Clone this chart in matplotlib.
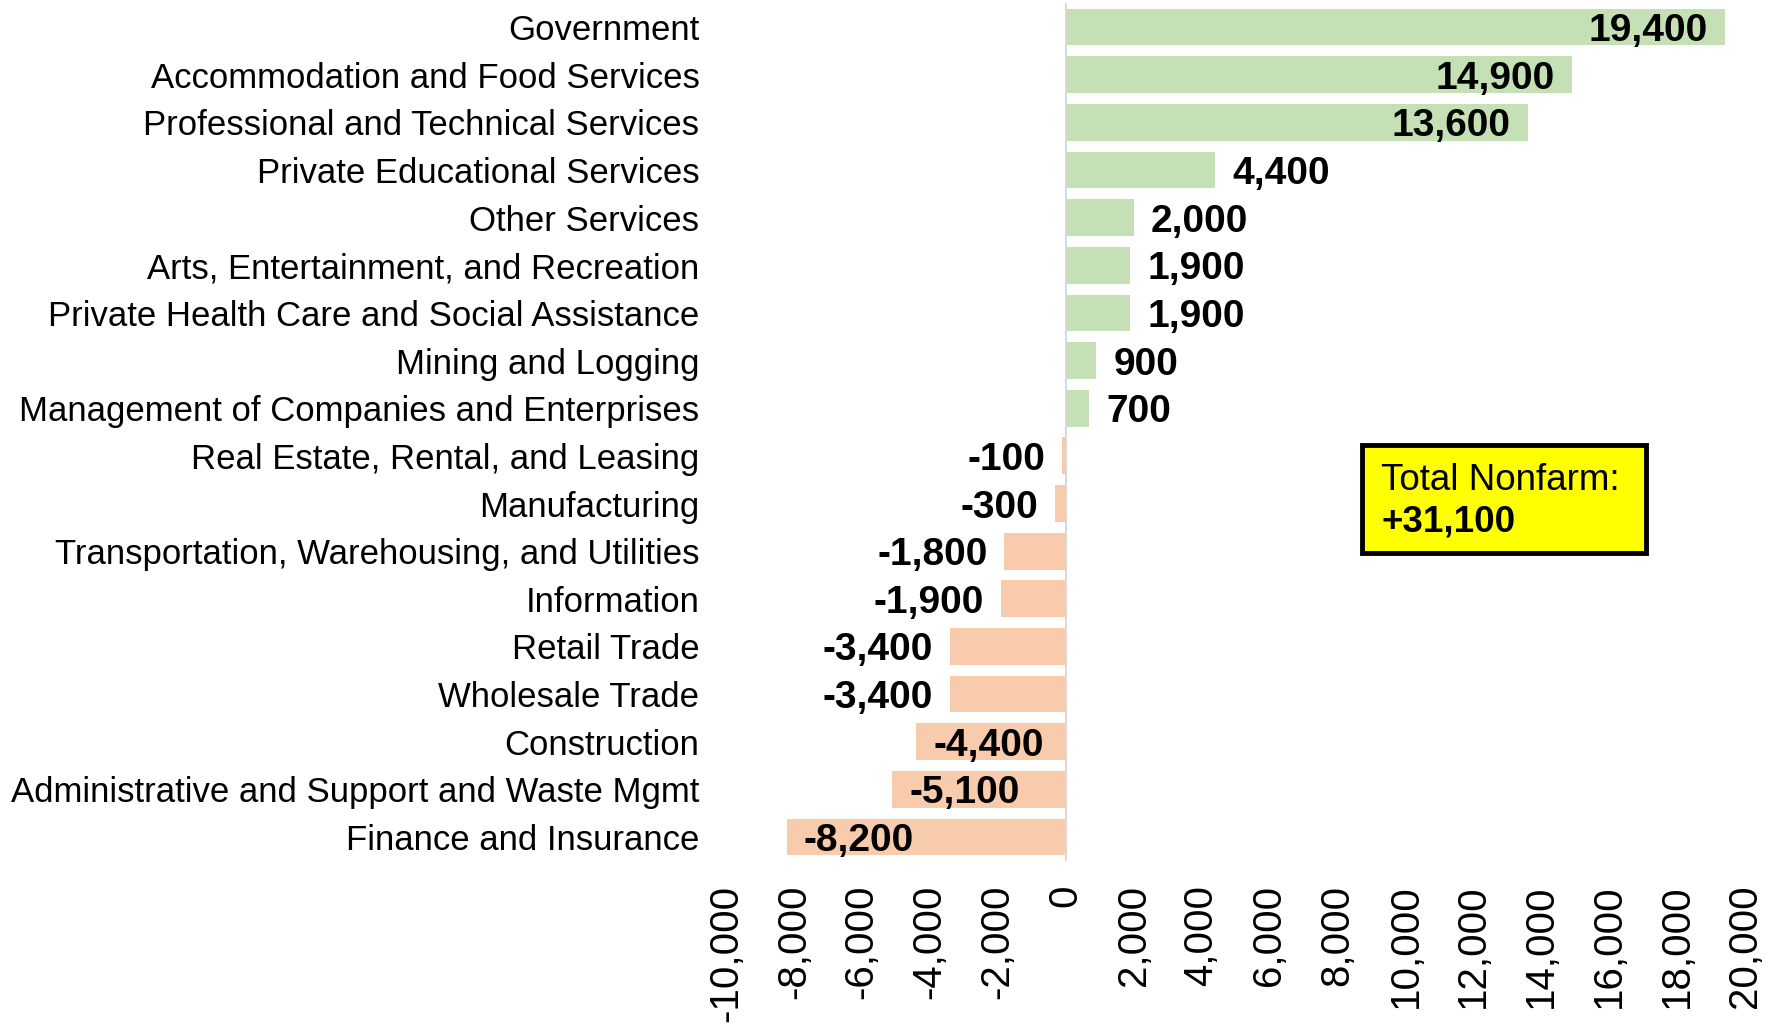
import matplotlib.pyplot as plt
from matplotlib.patches import Rectangle

# categories (top to bottom) and over-the-year change
industries = [
    'Government',
    'Accommodation and Food Services',
    'Professional and Technical Services',
    'Private Educational Services',
    'Other Services',
    'Arts, Entertainment, and Recreation',
    'Private Health Care and Social Assistance',
    'Mining and Logging',
    'Management of Companies and Enterprises',
    'Real Estate, Rental, and Leasing',
    'Manufacturing',
    'Transportation, Warehousing, and Utilities',
    'Information',
    'Retail Trade',
    'Wholesale Trade',
    'Construction',
    'Administrative and Support and Waste Mgmt',
    'Finance and Insurance',
]
changes = [19400, 14900, 13600, 4400, 2000, 1900, 1900, 900, 700,
           -100, -300, -1800, -1900, -3400, -3400, -4400, -5100, -8200]
total_nonfarm = 31100
xticks = list(range(-10000, 20001, 2000))

green = '#c5e0b4'
orange = '#f8cbad'

plt.rcParams['font.family'] = ['Liberation Sans', 'DejaVu Sans']

fig = plt.figure(figsize=(17.79, 10.28), dpi=100)
ax = fig.add_axes([0.408, 0.1625, 0.573, 0.8345])

ypos = list(range(len(industries)))
colors = [green if v > 0 else orange for v in changes]
ax.barh(ypos, changes, height=0.77, color=colors, zorder=2)
ax.axvline(0, color='#d9d9d9', lw=1.5, zorder=3)

ax.set_xlim(-10000, 20000)
ax.set_ylim(len(industries) - 0.5, -0.5)

# value labels: inside the bar for long bars, outside otherwise
off = 500
for y, v in zip(ypos, changes):
    txt = f'{v:,}'
    if v >= 10000:
        x, ha = v - off, 'right'
    elif v > 0:
        x, ha = v + off, 'left'
    elif v <= -4000:
        x, ha = v + off, 'left'
    else:
        x, ha = v - off, 'right'
    ax.text(x, y, txt, ha=ha, va='center_baseline', fontsize=28,
            fontweight='bold', zorder=4)

ax.set_yticks(ypos)
ax.set_yticklabels(industries, fontsize=25)
ax.set_xticks(xticks)
ax.set_xticklabels([f'{t:,}' for t in xticks], rotation=90, fontsize=29)
ax.tick_params(axis='y', length=0, pad=19)
ax.tick_params(axis='x', length=0, pad=17)
for s in ax.spines.values():
    s.set_visible(False)

# total nonfarm box
box = Rectangle((0.7655, 0.462), 0.160, 0.105, transform=fig.transFigure,
                facecolor='#ffff00', edgecolor='black', lw=3.5, zorder=5)
fig.patches.append(box)
fig.text(0.7765, 0.533, 'Total Nonfarm:', fontsize=26.5,
         va='center', ha='left', zorder=6)
fig.text(0.7765, 0.492, f'+{total_nonfarm:,}', fontsize=26.5,
         fontweight='bold', va='center', ha='left', zorder=6)

fig.savefig('out.png', dpi=100)
